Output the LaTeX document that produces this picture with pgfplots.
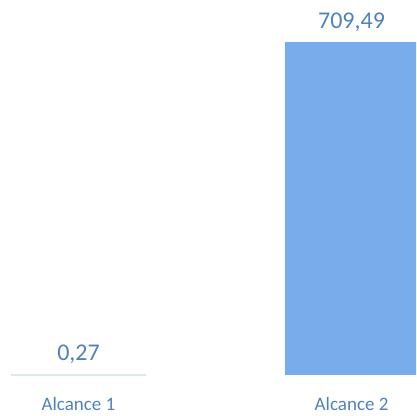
\documentclass[border=0pt]{standalone}
\usepackage{pgfplots}
\pgfplotsset{compat=1.18}
\usepackage{fontspec}
\setmainfont{Carlito}
\definecolor{barblue}{RGB}{120,172,235}
\definecolor{txtblue}{RGB}{79,129,189}
\definecolor{paleline}{RGB}{214,235,236}
\begin{document}
\begin{tikzpicture}
\begin{axis}[
 width=416pt, height=416pt, scale only axis,
 xmin=-0.2875, xmax=1.236, ymin=-87.3, ymax=799,
 axis line style={draw=none},
 ytick=\empty, xtick={0,1}, xticklabels={Alcance 1, Alcance 2},
 major tick length=0pt,
 xticklabel style={anchor=center, yshift=12pt, font=\fontsize{19}{20}\selectfont, text=txtblue},
 ybar, bar width=133pt, bar shift=0pt,
 nodes near coords, point meta=y,
 /pgf/number format/.cd, fixed, fixed zerofill, precision=2, use comma, assume math mode=true,
 /pgfplots/.cd,
 nodes near coords style={font=\fontsize{24}{25}\selectfont, text=txtblue, anchor=south, yshift=7pt},
]
\addplot[fill=paleline, draw=paleline, line width=2.5pt] coordinates {(0,0.27)};
\addplot[fill=barblue, draw=none] coordinates {(1,709.49)};
\end{axis}
\pgfresetboundingbox
\path[use as bounding box] (current axis.south west) rectangle (current axis.north east);
\end{tikzpicture}
\end{document}
